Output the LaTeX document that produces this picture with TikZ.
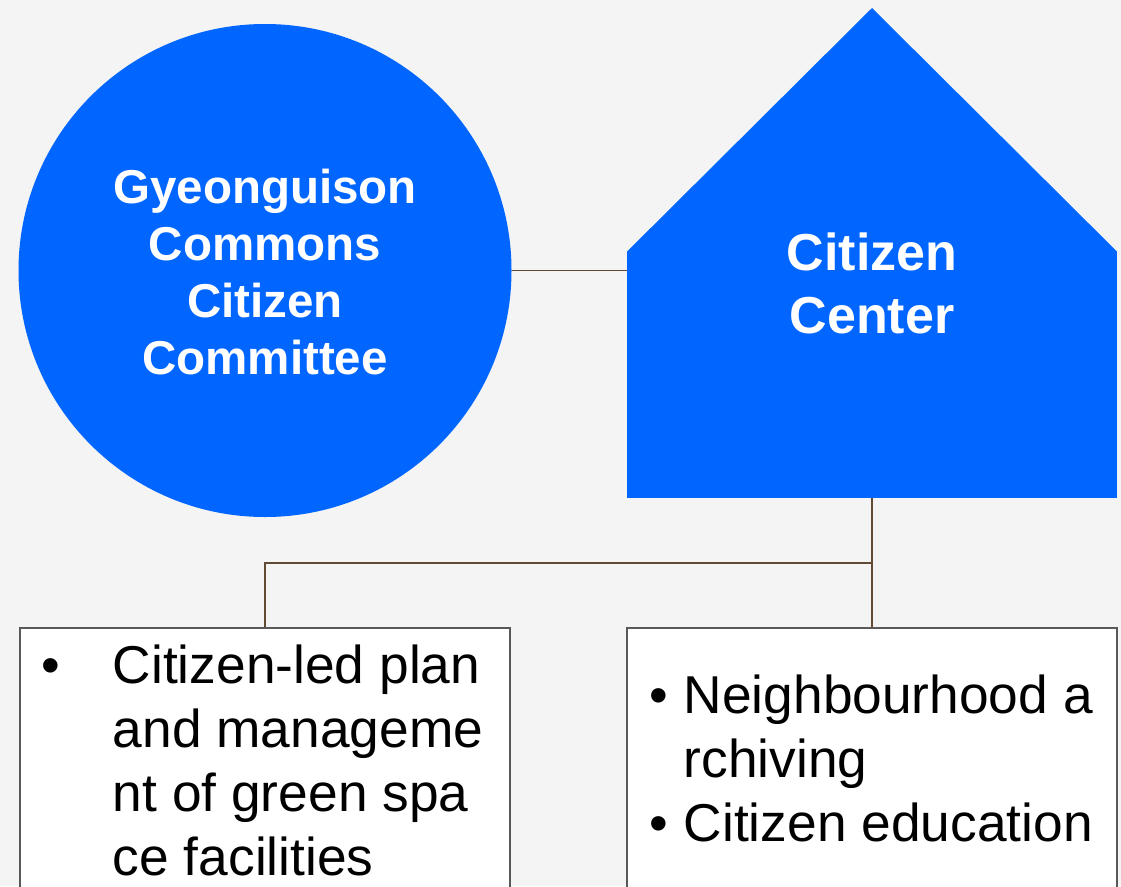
\documentclass[tikz,border=0pt]{standalone}
\usepackage{fontspec}
\setmainfont{Liberation Sans}
\definecolor{bg}{HTML}{F4F4F4}
\definecolor{brand}{HTML}{0066FF}
\definecolor{link}{HTML}{604B32}
\definecolor{frame}{HTML}{595959}

\begin{document}
\begin{tikzpicture}[x=1pt,y=-1pt,
  shapefill/.style={fill=brand, draw=none, inner sep=0pt},
  conn/.style={draw=link, line width=1.6pt},
  itembox/.style={draw=frame, line width=2pt, fill=white, minimum width=490pt,
    minimum height=320pt, anchor=north, inner sep=0pt},
  heading/.style={text=white, inner sep=0pt, anchor=base},
  itemtext/.style={text=black, inner sep=0pt, anchor=base west,
    font=\fontsize{53.3}{64}\selectfont},
]
\useasboundingbox (0,0) rectangle (1121,886);
\clip (0,0) rectangle (1121,886);
\fill[bg] (0,0) rectangle (1121,886);

% committee circle and citizen center house
\node[shapefill, circle, minimum size=493pt] (committee) at (265,270.5) {};
\node[shapefill, rectangle, minimum width=490pt, minimum height=246pt] (center) at (872,375) {};
\coordinate (peak) at (872,8);
\fill[brand] (center.north west) -- (peak) -- (center.north east) -- cycle;

% connectors
\coordinate (split) at (872,563);
\draw[conn] (committee.east) -- (committee.east -| center.west);
\draw[conn] (center.south) -- (split);
\draw[conn] (split) -| (265,627);
\draw[conn] (split) -- (872,627);

% activity boxes
\node[itembox] (plan) at (265,627) {};
\node[itembox] (archive) at (872,627) {};

% labels
\node[heading, font=\bfseries\fontsize{47.5}{57}\selectfont] (committeelbl) at (265,203)
  {\begin{tabular}[t]{@{}c@{}}Gyeonguison\\Commons\\Citizen\\Committee\end{tabular}};
\node[heading, font=\bfseries\fontsize{52}{63}\selectfont] (centerlbl) at (872,270)
  {\begin{tabular}[t]{@{}c@{}}Citizen\\Center\end{tabular}};

\node[itemtext] (plantext) at (41,683)
  {\begin{tabular}[t]{@{}l@{\hspace{53pt}}l@{}}•&Citizen-led plan\\&and manageme\\&nt of green spa\\&ce facilities\end{tabular}};
\node[itemtext] (archivetext) at (649,713)
  {\begin{tabular}[t]{@{}l@{\hspace{16pt}}l@{}}•&Neighbourhood a\\&rchiving\\•&Citizen education\end{tabular}};
\end{tikzpicture}
\end{document}
